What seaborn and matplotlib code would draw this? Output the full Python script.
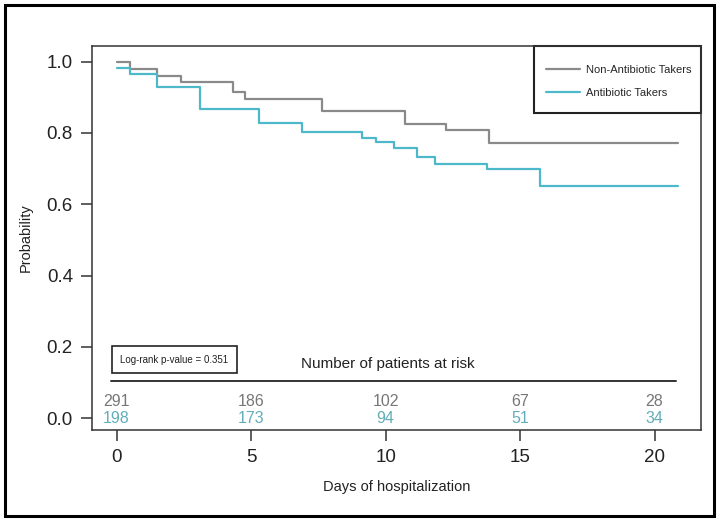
import numpy as np
import pandas as pd
import seaborn as sns
import matplotlib.pyplot as plt
from matplotlib.patches import Rectangle

# step curves (time of each step start, survival prob)
non_abx_days = [0, 0.50, 1.49, 2.39, 4.32, 4.79, 7.63, 10.71, 12.24, 13.86, 20.86]
non_abx_prob = [1.0, 0.979, 0.961, 0.942, 0.914, 0.895, 0.862, 0.826, 0.808, 0.771, 0.771]
abx_days = [0, 0.50, 1.49, 3.10, 5.31, 6.91, 9.14, 9.65, 10.33, 11.16, 11.85, 13.76, 15.75, 20.86]
abx_prob = [0.983, 0.965, 0.929, 0.868, 0.827, 0.804, 0.787, 0.774, 0.758, 0.734, 0.713, 0.698, 0.652, 0.652]

risk_days = [0, 5, 10, 15, 20]
risk_non_abx = [291, 186, 102, 67, 28]
risk_abx = [198, 173, 94, 51, 34]

groups = ["Non-Antibiotic Takers", "Antibiotic Takers"]
grey = "#8a8a8a"
teal = "#4cb8c9"

df = pd.concat([
    pd.DataFrame({"day": non_abx_days, "prob": non_abx_prob, "group": groups[0]}),
    pd.DataFrame({"day": abx_days, "prob": abx_prob, "group": groups[1]}),
])

sns.set_style("ticks")
plt.rcParams["font.family"] = ["Liberation Sans", "DejaVu Sans"]

fig = plt.figure(figsize=(7.22, 5.23), dpi=100)
ax = fig.add_axes([0.128, 0.178, 0.843, 0.734])

sns.lineplot(data=df, x="day", y="prob", hue="group", hue_order=groups,
             palette=[grey, teal], drawstyle="steps-post", linewidth=1.6,
             legend=True, ax=ax)

ax.set_xlim(-0.9, 21.73)
ax.set_ylim(-0.033, 1.044)
ax.set_xticks([0, 5, 10, 15, 20])
ax.set_yticks([0, 0.2, 0.4, 0.6, 0.8, 1.0])
ax.set_yticklabels(["0.0", "0.2", "0.4", "0.6", "0.8", "1.0"])
ax.tick_params(axis="both", labelsize=13.5, length=8, width=1.1, color="#333333",
               labelcolor="#222222", pad=6)
for s in ax.spines.values():
    s.set_linewidth(1.1)
    s.set_color("#333333")

ax.set_xlabel("Days of hospitalization", fontsize=10.5, color="#222222", labelpad=10)
ax.set_ylabel("Probability", fontsize=10.5, color="#222222", labelpad=10)

# legend with a square box in the top right corner
handles, labels = ax.get_legend_handles_labels()
ax.legend(handles, labels, loc="upper left", bbox_to_anchor=(0.735, 0.968),
          frameon=False, fontsize=8, handlelength=3.0, handletextpad=0.6,
          labelspacing=1.2, borderaxespad=0, borderpad=0.6)
ax.add_patch(Rectangle((0.726, 0.825), 0.274, 0.175, transform=ax.transAxes,
                       fill=False, edgecolor="#222222", linewidth=1.5, clip_on=False))

# log-rank box
ax.add_patch(Rectangle((-0.18, 0.126), 4.65, 0.075, fill=False,
                       edgecolor="#222222", linewidth=1.2))
ax.text(2.15, 0.164, "Log-rank p-value = 0.351", fontsize=7, ha="center", va="center",
        color="#222222")

# number at risk table
ax.text(10.1, 0.152, "Number of patients at risk", fontsize=11, ha="center",
        va="center", color="#222222")
ax.plot([-0.2, 20.8], [0.103, 0.103], color="#333333", linewidth=1.4)
for d, a, b in zip(risk_days, risk_non_abx, risk_abx):
    ax.text(d, 0.048, str(a), fontsize=11.5, ha="center", va="center", color="#777777")
    ax.text(d, -0.001, str(b), fontsize=11.5, ha="center", va="center", color="#62adb9")

# outer frame of the picture
fig.patches.append(Rectangle((0.0069, 0.0134), 0.982, 0.977, transform=fig.transFigure,
                             fill=False, edgecolor="black", linewidth=2.2))

fig.savefig("out.png", dpi=100)
